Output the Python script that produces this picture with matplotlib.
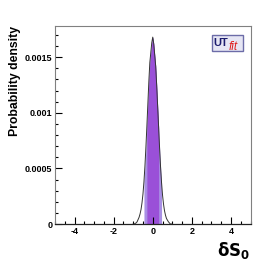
import numpy as np
import matplotlib
matplotlib.use("Agg")
import matplotlib.pyplot as plt
from matplotlib.patches import Rectangle
from matplotlib.ticker import MultipleLocator, FixedLocator, FixedFormatter

plt.rcParams['font.family'] = ['Liberation Sans', 'DejaVu Sans']

# density curve
dS0 = [-1.0, -0.95, -0.9, -0.85, -0.8, -0.75, -0.7, -0.65, -0.6, -0.55, -0.5,
       -0.45, -0.4, -0.35, -0.3, -0.25, -0.2, -0.15, -0.1, -0.05, 0.0,
       0.05, 0.1, 0.15, 0.2, 0.25, 0.3, 0.35, 0.4, 0.45, 0.5,
       0.55, 0.6, 0.65, 0.7, 0.75, 0.8, 0.85, 0.9, 0.95, 1.0]
dens = [0.0, 0.0, 0.000005, 0.00001, 0.00002, 0.00004, 0.00006, 0.00009, 0.00013, 0.00019, 0.00027,
        0.00038, 0.00052, 0.00069, 0.00088, 0.00108, 0.00128, 0.00145, 0.00154, 0.00163, 0.00168,
        0.00162, 0.00152, 0.00142, 0.00125, 0.00106, 0.00087, 0.00068, 0.00051, 0.00037, 0.00026,
        0.00018, 0.00012, 0.00008, 0.00005, 0.000035, 0.00002, 0.00001, 0.0, 0.0, 0.0]
# 68% and 95% intervals
c68 = (-0.3, 0.3)
c95 = (-0.45, 0.45)

yticks = [0, 0.0005, 0.001, 0.0015]
ylabels = ['0', '0.0005', '0.001', '0.0015']
xticks = [-4, -2, 0, 2, 4]
xlabels = ['-4', '-2', '0', '2', '4']

x = np.array(dS0)
y = np.array(dens)

fig = plt.figure(figsize=(2.79, 2.64), dpi=100)
ax = fig.add_axes([0.197, 0.1515, 0.701, 0.75])

m95 = (x >= c95[0] - 1e-9) & (x <= c95[1] + 1e-9)
m68 = (x >= c68[0] - 1e-9) & (x <= c68[1] + 1e-9)
ax.fill_between(x, 0, y, where=m95, color='#a88fe4', lw=0)
ax.fill_between(x, 0, y, where=m68, color='#9a50d8', lw=0)
ax.plot(x, y, color='#333333', lw=0.7)

ax.set_xlim(-5, 5)
ax.set_ylim(0, 0.00178)

ax.xaxis.set_major_locator(FixedLocator(xticks))
ax.xaxis.set_major_formatter(FixedFormatter(xlabels))
ax.xaxis.set_minor_locator(MultipleLocator(0.5))
ax.yaxis.set_major_locator(FixedLocator(yticks))
ax.yaxis.set_major_formatter(FixedFormatter(ylabels))
ax.yaxis.set_minor_locator(MultipleLocator(0.0001))

ax.tick_params(which='both', direction='in', top=False, right=False,
               labelsize=6.5, pad=2, width=0.8)
ax.tick_params(which='major', length=5)
ax.tick_params(which='minor', length=2.5)
for lab in ax.get_xticklabels() + ax.get_yticklabels():
    lab.set_fontweight('bold')

for s in ['top', 'right', 'left']:
    ax.spines[s].set_color('#808080')
    ax.spines[s].set_linewidth(0.8)
ax.spines['bottom'].set_color('#222222')
ax.spines['bottom'].set_linewidth(0.9)

ax.set_ylabel('Probability density', fontsize=8.8, fontweight='bold', loc='top', labelpad=3)
ax.set_xlabel(r'$\mathbf{\delta S_0}$', fontsize=12, loc='right', labelpad=3)

# UTfit logo
ax.add_patch(Rectangle((0.801, 0.874), 0.162, 0.081, transform=ax.transAxes,
                       fc='#e6e6f4', ec='#6c6ca8', lw=1.0, zorder=5))
ax.text(0.810, 0.914, 'UT', transform=ax.transAxes, ha='left', va='center',
        fontsize=8, fontweight='bold', color='#1c1c6e', zorder=6)
ax.text(0.886, 0.896, 'fit', transform=ax.transAxes, ha='left', va='center',
        fontsize=8.5, style='italic', color='#e02020', zorder=6)

fig.savefig('out.png', dpi=100)
